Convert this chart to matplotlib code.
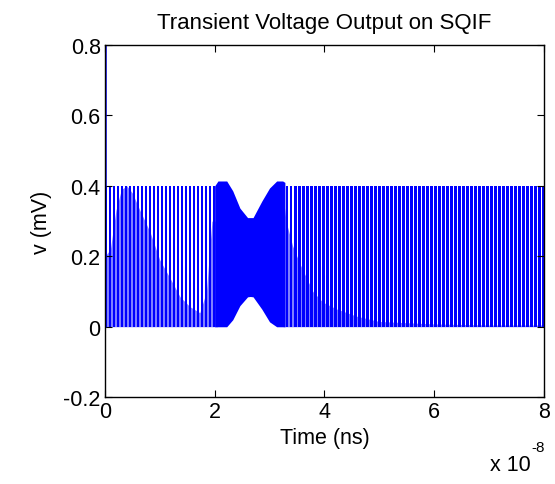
import numpy as np
import matplotlib
matplotlib.use("Agg")
import matplotlib.pyplot as plt

plt.rcParams['font.family'] = ['Liberation Sans', 'DejaVu Sans']
plt.rcParams['axes.unicode_minus'] = False

DARK = '#0000ff'
LIGHT = '#8080ff'

# spike train
spike_period = 0.073e-8          # s between spikes
spike_low, spike_high = 0.0, 0.40
left_span = (0.02e-8, 2.05e-8)   # regular spikes before the bunch
right_span = (3.25e-8, 8.0e-8)   # regular spikes after the bunch
start_spike = 0.85               # initial pulse at t=0 (clipped)

# light "fill" envelope under the spikes
light_left_t = np.array([0, 0.1, 0.2, 0.3, 0.4, 0.5, 0.64, 0.82, 1.0, 1.18,
                         1.37, 1.55, 1.73, 1.85, 1.95, 2.05]) * 1e-8
light_left_v = [0.2, 0.22, 0.33, 0.39, 0.40, 0.38, 0.33, 0.27, 0.19, 0.14,
                0.085, 0.057, 0.04, 0.1, 0.3, 0.3]
light_right_t = np.array([3.25, 3.3, 3.42, 3.55, 3.64, 3.79, 3.97, 4.23,
                          4.59, 5.0, 6.0, 7.0, 8.0]) * 1e-8
light_right_v = [0.37, 0.3, 0.23, 0.18, 0.15, 0.1, 0.07, 0.05, 0.03,
                 0.015, 0.008, 0.005, 0.005]

# dense middle section envelopes
mid_t = np.array([2.0, 2.06, 2.22, 2.33, 2.46, 2.6, 2.65, 2.7, 2.86, 3.0,
                  3.13, 3.24, 3.28]) * 1e-8
mid_top = [0.40, 0.414, 0.414, 0.386, 0.337, 0.31, 0.31, 0.31, 0.357,
           0.394, 0.414, 0.414, 0.41]
mid_bot = [0.0, 0.0, 0.0, 0.02, 0.06, 0.085, 0.086, 0.085, 0.05, 0.014,
           0.0, 0.0, 0.0]

xticks = np.array([0, 2, 4, 6, 8]) * 1e-8
yticks = [-0.2, 0, 0.2, 0.4, 0.6, 0.8]

fig = plt.figure(figsize=(5.55, 4.85), dpi=100)
ax = fig.add_axes([0.189, 0.179, 0.791, 0.726])

ax.fill_between(light_left_t, 0, light_left_v, color=LIGHT, lw=0)
ax.fill_between(light_right_t, 0, light_right_v, color=LIGHT, lw=0)
ax.fill_between(mid_t, mid_bot, mid_top, color=DARK, lw=0)

for lo, hi in (left_span, right_span):
    times = np.arange(lo, hi, spike_period)
    ax.bar(times, spike_high - spike_low, width=spike_period * 0.62,
           bottom=spike_low, color=DARK, lw=0, antialiased=False)
ax.vlines([0.0], 0, start_spike, color=DARK, lw=1.8)

ax.set_xlim(0, 8e-8)
ax.set_ylim(-0.2, 0.8)
ax.set_xticks(xticks)
ax.set_xticklabels(['%g' % (v * 1e8) for v in xticks])
ax.set_yticks(yticks)
ax.set_yticklabels(['%g' % v for v in yticks])
ax.tick_params(direction='in', top=True, right=True, length=5,
               labelsize=15.5, pad=3)
for s in ax.spines.values():
    s.set_linewidth(1.0)

ax.set_title('Transient Voltage Output on SQIF', fontsize=16, pad=12)
ax.set_xlabel('Time (ns)', fontsize=15.5, labelpad=3)
ax.set_ylabel('v (mV)', fontsize=15.5, labelpad=8)
fig.text(0.882, 0.018, 'x 10', fontsize=15.5, ha='left', va='bottom')
fig.text(0.957, 0.062, '-8', fontsize=11, ha='left', va='bottom')

fig.savefig('out.png', dpi=100)
